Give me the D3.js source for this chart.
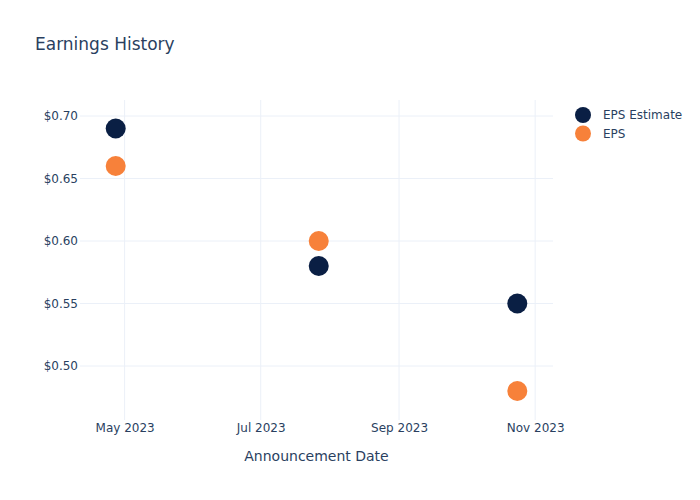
<!DOCTYPE html>
<html><head><meta charset="utf-8">
<script src="https://cdn.jsdelivr.net/npm/d3@7"></script>
<style>body{margin:0;background:#fff;} svg{display:block;font-family:"DejaVu Sans",Verdana,sans-serif;}</style>
</head><body>
<svg id="c" width="700" height="500"></svg>
<script>
const dates = ["2023-04-27", "2023-07-27", "2023-10-24"];
const epsEstimate = [0.69, 0.58, 0.55];
const eps = [0.66, 0.60, 0.48];
const seriesNames = ["EPS Estimate", "EPS"];
const seriesColors = ["#0a1f44", "#f7813a"];
const yTicks = [0.50, 0.55, 0.60, 0.65, 0.70];
const xTicks = ["2023-05-01", "2023-07-01", "2023-09-01", "2023-11-01"];
const xDomain = ["2023-04-11", "2023-11-09"];
const yDomain = [0.4568, 0.7128];

const parse = d3.utcParse("%Y-%m-%d");
const svg = d3.select("#c");
const L = 80, R = 553, T = 100, B = 420;
const x = d3.scaleUtc().domain(xDomain.map(parse)).range([L, R]);
const y = d3.scaleLinear().domain(yDomain).range([B, T]);
const txt = "#2a3f5f", grid = "#ebf0f8";

// grid
svg.append("g").selectAll("line").data(yTicks).join("line")
  .attr("x1", L).attr("x2", R).attr("y1", d => y(d)).attr("y2", d => y(d))
  .attr("stroke", grid).attr("stroke-width", 1);
svg.append("g").selectAll("line").data(xTicks).join("line")
  .attr("x1", d => x(parse(d))).attr("x2", d => x(parse(d))).attr("y1", T).attr("y2", B)
  .attr("stroke", grid).attr("stroke-width", 1);

// axes
const yAxis = d3.axisLeft(y).tickValues(yTicks).tickSize(0).tickPadding(2)
  .tickFormat(d => "$" + d3.format(".2f")(d));
const gy = svg.append("g").attr("transform", `translate(${L},0)`).call(yAxis);
gy.select(".domain").remove();
gy.selectAll("text").attr("fill", txt).style("font-size", "12px").style("font-family", "DejaVu Sans");

const xAxis = d3.axisBottom(x).tickValues(xTicks.map(parse)).tickSize(0).tickPadding(3)
  .tickFormat(d3.utcFormat("%b %Y"));
const gx = svg.append("g").attr("transform", `translate(0,${B})`).call(xAxis);
gx.select(".domain").remove();
gx.selectAll("text").attr("fill", txt).style("font-size", "12px").style("font-family", "DejaVu Sans");

// points
const series = [epsEstimate, eps];
series.forEach((vals, i) => {
  svg.append("g").selectAll("circle").data(vals).join("circle")
    .attr("cx", (d, j) => x(parse(dates[j]))).attr("cy", d => y(d)).attr("r", 10)
    .attr("fill", seriesColors[i]);
});

// title
svg.append("text").attr("x", 35).attr("y", 50).attr("fill", txt)
  .style("font-size", "17px").text("Earnings History");
svg.append("text").attr("x", (L + R) / 2).attr("y", 461).attr("text-anchor", "middle")
  .attr("fill", txt).style("font-size", "14px").text("Announcement Date");

// legend
const lg = svg.append("g");
seriesNames.forEach((n, i) => {
  const yy = 115 + i * 18.5;
  lg.append("circle").attr("cx", 583).attr("cy", yy).attr("r", 8).attr("fill", seriesColors[i]);
  lg.append("text").attr("x", 603).attr("y", yy + 4).attr("fill", txt)
    .style("font-size", "12px").text(n);
});
</script>
</body></html>
